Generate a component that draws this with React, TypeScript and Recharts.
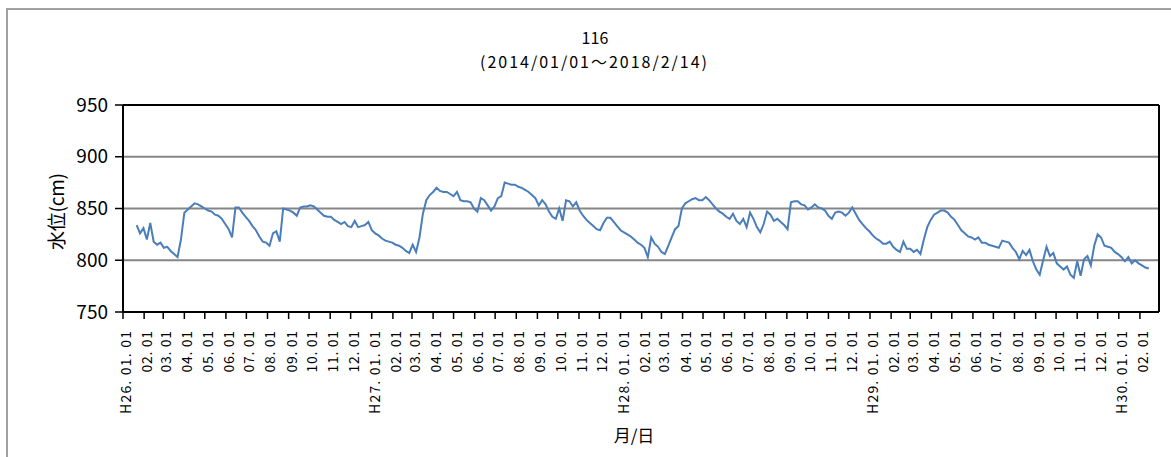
import { LineChart, Line, XAxis, YAxis, CartesianGrid, ReferenceLine } from 'recharts';

const FONT = "'Noto Sans CJK JP', 'Noto Sans', sans-serif";
const DAY_MS = 86400000;
const START_DATE = Date.UTC(2014, 0, 1); // H26.01.01
const FIRST_DAY = 20; // first reading: 2014/01/21
const STEP_DAYS = 5;
const END_DAY = 1520; // axis ends at 2018/03/01

// water level (cm), one reading every 5 days
const level2014 = [
  834, 826, 831, 820, 836, 818, 815, 817, 812, 813, 809, 806, 803,
  820, 846, 849, 852, 855, 854, 852, 850, 848, 847, 844, 843, 840, 835, 830, 822,
  851, 851, 846, 842, 838, 833, 829, 823, 818, 817, 814, 826, 828, 818,
  850, 849, 848, 846, 843, 851, 852, 852, 853, 852, 849, 846, 843, 842, 842, 839,
  837, 835, 837, 833, 832, 838, 832, 833, 834, 837,
];
const level2015 = [
  829, 826, 824, 821, 819, 818, 817, 815, 814, 812, 809, 807, 815, 808, 822,
  845, 858, 863, 866, 870, 867, 866, 866, 864, 862, 866, 858, 857, 857, 856, 850, 847,
  860, 858, 853, 848, 852, 860, 862, 875, 874, 873, 873, 871, 870, 868, 866, 863,
  860, 853, 858, 854, 847, 842, 840, 850, 838, 858, 857, 852, 856, 848, 843, 839,
  836, 833, 830, 829, 836, 841, 841, 837, 833,
];
const level2016 = [
  829, 827, 825, 823, 820, 817, 815, 812, 803, 822, 816, 813, 808, 806,
  814, 822, 830, 833, 850, 855, 857, 859, 860, 858, 858, 861, 858, 854, 850,
  847, 845, 842, 840, 845, 838, 835, 840, 832, 846, 840, 832, 827, 835,
  847, 844, 838, 840, 837, 834, 830, 856, 857, 857, 854, 853,
  849, 851, 854, 851, 850, 848, 843, 840, 846, 847, 846, 843, 846, 851, 845, 839,
  835, 831, 828,
];
const level2017 = [
  824, 821, 819, 816, 816, 818, 813, 810, 808, 818, 811, 811, 808, 810, 806,
  820, 832, 839, 844, 846, 848, 848, 846, 842, 839, 834, 829, 826, 823, 822, 820,
  822, 817, 817, 815, 814, 813, 812, 819, 818, 817, 812, 808, 801, 809, 805, 810,
  799, 791, 786, 800,
  813, 804, 807, 797, 794, 791, 794, 786, 783, 799, 785, 801, 804, 795, 814, 825,
  822, 814, 813, 812, 808, 806,
];
const level2018 = [803, 799, 803, 797, 800, 797, 795, 793, 792];

const yTicks = [750, 800, 850, 900, 950];

const levels = [...level2014, ...level2015, ...level2016, ...level2017, ...level2018];
const data = levels.map((v, i) => ({ day: FIRST_DAY + i * STEP_DAYS, level: v }));

// first of every month, 2014/01 .. 2018/02
const monthTicks: number[] = [];
for (let y = 2014; y <= 2018; y++) {
  for (let m = 0; m < 12; m++) {
    const t = Date.UTC(y, m, 1);
    if (t > Date.UTC(2018, 1, 1)) break;
    monthTicks.push(Math.round((t - START_DATE) / DAY_MS));
  }
}

function MonthTick(props: any) {
  const { x, y, payload } = props;
  const d = new Date(START_DATE + payload.value * DAY_MS);
  const m = d.getUTCMonth() + 1;
  const isJan = m === 1;
  const label = isJan
    ? `H${d.getUTCFullYear() - 1988}. 01. 01`
    : `${String(m).padStart(2, '0')}. 01`;
  return (
    <g transform={`translate(${x},${y})`}>
      <text
        transform="rotate(-90)"
        x={-12}
        y={8}
        textAnchor="end"
        fontSize={14}
        fontFamily={FONT}
        fill="#000"
        textLength={isJan ? 83 : 41.5}
        lengthAdjust="spacing"
      >
        {label}
      </text>
    </g>
  );
}

export default function App() {
  return (
    <div style={{ position: 'absolute', left: 0, top: 0, width: 1171, height: 457, overflow: 'hidden', background: '#fff' }}>
      <div style={{ position: 'absolute', left: 6, top: 8, width: 1300, height: 600, border: '2px solid #a0a0a0' }} />
      <div style={{ position: 'absolute', left: 0, top: 0 }}>
        <LineChart width={1171} height={457} data={data} margin={{ top: 105, right: 12, bottom: 45, left: 0 }}>
          <CartesianGrid vertical={false} stroke="#868686" strokeWidth={2} />
          <XAxis
            type="number"
            dataKey="day"
            domain={[0, END_DAY]}
            ticks={monthTicks}
            interval={0}
            height={100}
            tickSize={7}
            tickMargin={0}
            axisLine={{ stroke: '#000', strokeWidth: 2 }}
            tickLine={{ stroke: '#000', strokeWidth: 1.5 }}
            tick={<MonthTick />}
          />
          <YAxis
            type="number"
            domain={[750, 950]}
            ticks={yTicks}
            interval={0}
            width={123}
            tickSize={8}
            tickMargin={7}
            axisLine={{ stroke: '#000', strokeWidth: 2 }}
            tickLine={{ stroke: '#000', strokeWidth: 1.5 }}
            tick={{ fill: '#000', fontSize: 19, fontFamily: FONT }}
          />
          <ReferenceLine y={950} stroke="#000" strokeWidth={2} />
          <ReferenceLine x={END_DAY} stroke="#000" strokeWidth={2} />
          <Line
            type="linear"
            dataKey="level"
            stroke="#4A7EBB"
            strokeWidth={2}
            dot={false}
            isAnimationActive={false}
          />
        </LineChart>
      </div>
      <svg width={1171} height={457} style={{ position: 'absolute', left: 0, top: 0, pointerEvents: 'none' }}>
        <text x={595} y={44} textAnchor="middle" fontSize={16} fontFamily={FONT} fill="#000" textLength={27} lengthAdjust="spacing">116</text>
        <text x={593.5} y={67.5} textAnchor="middle" fontSize={16} fontFamily={FONT} fill="#000" textLength={227} lengthAdjust="spacing">
          (2014/01/01～2018/2/14)
        </text>
        <text
          transform="translate(64,211.5) rotate(-90)"
          textAnchor="middle"
          fontSize={19}
          fontFamily={FONT}
          fill="#000"
          textLength={77}
          lengthAdjust="spacing"
        >
          水位(cm)
        </text>
        <text x={634} y={442} textAnchor="middle" fontSize={17} fontFamily={FONT} fill="#000">月/日</text>
      </svg>
    </div>
  );
}
